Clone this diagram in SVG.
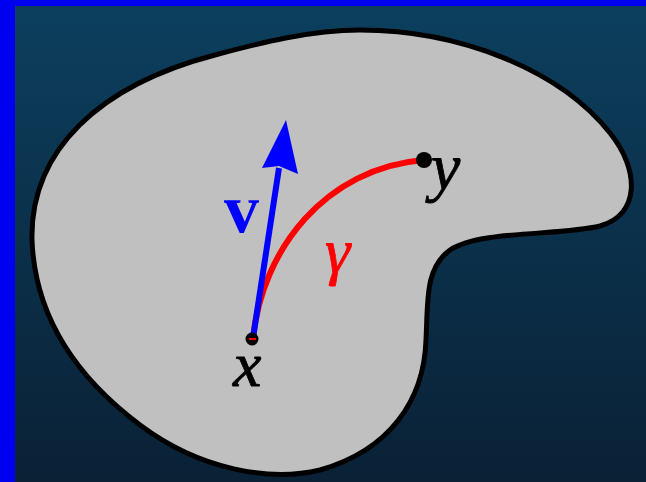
<svg xmlns="http://www.w3.org/2000/svg" width="646" height="482" viewBox="0 0 646 482">
<defs>
<linearGradient id="bg" x1="0" y1="0" x2="0" y2="1">
<stop offset="0" stop-color="#0c3f5e"/>
<stop offset="1" stop-color="#0a2136"/>
</linearGradient>
<style>
.lbl{font-family:"Liberation Serif","Times New Roman",serif;}
.it{font-style:italic;fill:#000;stroke:#000;stroke-width:0.8;}
</style>
</defs>
<rect x="0" y="0" width="646" height="482" fill="#0000f0"/>
<rect x="15" y="6" width="631" height="476" fill="url(#bg)"/>
<g id="region">
<path d="M360,30 C460,30 560,70 610,133 C640,170 640,215 600,226 C560,236 480,230 450,250 C425,268 428,300 426,340 C424,400 390,450 320,470 C270,482 200,470 140,425 C80,380 35,320 32,240 C30,150 100,85 215,55 C260,43 310,30 360,30 Z" fill="#c0c0c0" stroke="#000" stroke-width="5"/>
</g>
<g id="connectors">
<path d="M253,338 C262,250 325,168 424,160" fill="none" stroke="#ff0000" stroke-width="6"/>
<line x1="253" y1="338" x2="279" y2="168" stroke="#0000ff" stroke-width="6"/>
<polygon points="286,120 298,174 279,166 262,168" fill="#0000ff"/>
</g>
<g id="point-x">
<circle cx="252" cy="339" r="6.5" fill="#000"/>
<line x1="249" y1="339" x2="256" y2="339" stroke="#ff0000" stroke-width="2"/>
<text class="lbl it" x="233" y="386" font-size="64">x</text>
</g>
<g id="point-y">
<circle cx="424" cy="160" r="8" fill="#000"/>
<text class="lbl it" x="431" y="189" font-size="66">y</text>
</g>
<g id="label-v">
<text class="lbl" x="224" y="232" font-size="70" font-weight="bold" fill="#0000ff">v</text>
</g>
<g id="label-gamma">
<text class="lbl" x="325" y="272" font-size="64" font-style="italic" fill="#ff0000" stroke="#ff0000" stroke-width="0.8">γ</text>
</g>
</svg>
